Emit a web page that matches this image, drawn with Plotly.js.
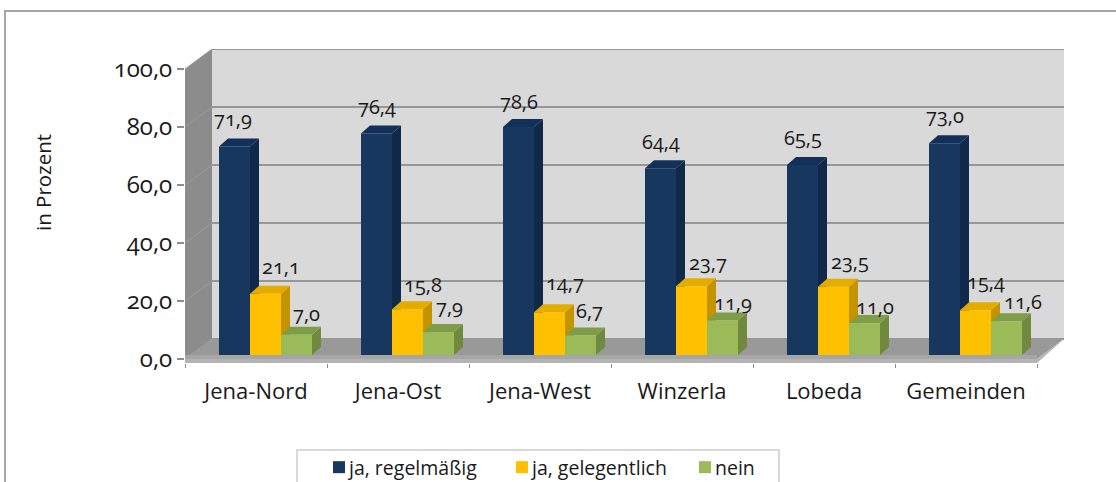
<!DOCTYPE html>
<html><head><meta charset="utf-8">
<script src="https://cdn.plot.ly/plotly-3.0.1.min.js"></script>
<style>
html,body{margin:0;padding:0;background:#fff;overflow:hidden}
#chart{width:1116px;height:482px}
svg text{font-feature-settings:"onum" 1;font-variant-numeric:oldstyle-nums}
.legend .legendsymbols{transform:translateX(10px)}
</style></head><body><div id="chart"></div>
<script>
const categories = ['Jena-Nord','Jena-Ost','Jena-West','Winzerla','Lobeda','Gemeinden'];
const seriesNames = ['ja, regelmäßig','ja, gelegentlich','nein'];
const regelmaessig = [71.9,76.4,78.6,64.4,65.5,73.0];
const gelegentlich = [21.1,15.8,14.7,23.7,23.5,15.4];
const nein = [7.0,7.9,6.7,11.9,11.0,11.6];
const yTicks = [0,20,40,60,80,100];

const labelNudgeX = [[-2,0,0,0,0,0],[15,15,15,16,16,10],[10,11,9,10,10,16]];
const labelNudgeY = [[28,27,26,27,28,28],[27,25,30,24,25,29],[21,26,25,18,17,20]];

const front = ['#17375E','#FFC000','#9BBB59'];
const side  = ['#10294A','#C49400','#71893F'];
const topC  = ['#13305A','#E5AC00','#7F9C48'];

const FF = 'Open Sans, Lato, sans-serif', TXT = '#1a1a1a';
const pxX = 142, pxY = 2.9;
const wallX = 27/pxX, wallY = 20/pxY;
const barW = 31/pxX, barStart = 34/pxX;
const barBase = 4/pxY;
const bdx = 9/pxX, bdy = 8/pxY;
const N = categories.length;
const all = [regelmaessig, gelegentlich, nein];
const poly = (pts, fill, extra) => Object.assign({type:'path', xref:'x', yref:'y', layer:'below',
  path:'M'+pts.map(p=>p[0]+','+p[1]).join('L')+'Z', fillcolor:fill, line:{width:0}}, extra||{});
const shapes = [];

shapes.push({type:'path',xref:'paper',yref:'paper',layer:'below',
  path:'M'+((5-185)/879)+',-0.4L'+((5-185)/879)+','+((363-11)/314)+'L'+((1116-185)/879)+','+((363-11)/314),
  line:{color:'#A6A6A6',width:2}});
shapes.push(poly([[wallX,wallY],[N+wallX,wallY],[N+wallX,100+wallY],[wallX,100+wallY]],'#D9D9D9'));
shapes.push(poly([[0,0],[wallX,wallY],[wallX,100+wallY],[0,100]],'#8C8C8C'));
yTicks.forEach(v=>{
  shapes.push({type:'line',xref:'x',yref:'y',layer:'below',x0:wallX,x1:N+wallX,y0:v+wallY,y1:v+wallY,line:{color:'#979797',width:2}});
  shapes.push({type:'line',xref:'x',yref:'y',layer:'below',x0:0,x1:wallX,y0:v,y1:v+wallY,line:{color:'#9A9A9A',width:1}});
});
shapes.push(poly([[0,0],[wallX,wallY],[N+wallX,wallY],[N,0]],'#999999'));
shapes.push(poly([[0,-1.38],[N,-1.38],[N+wallX,wallY],[N,0],[0,0]],'#B4B4B4'));
shapes.push(poly([[0,0],[N,0],[N,barBase],[0,barBase]],'#A6A6A6'));

all.forEach((vals,s)=>{
  vals.forEach((v,i)=>{
    const x0=i+barStart+s*barW, x1=x0+barW, t=v+barBase;
    shapes.push(poly([[x1,barBase],[x1+bdx,barBase+bdy],[x1+bdx,t+bdy],[x1,t]],side[s]));
    shapes.push(poly([[x0,t],[x0+bdx,t+bdy],[x1+bdx,t+bdy],[x1,t]],topC[s]));
  });
});

const traces = all.map((vals,s)=>({
  type:'bar', name:seriesNames[s],
  x:vals.map((_,i)=>i+barStart+(s+0.5)*barW), y:vals, base:barBase, width:barW,
  marker:{color:front[s],line:{width:0}},
  hoverinfo:'skip'
}));

const annotations = [];
all.forEach((vals,s)=>vals.forEach((v,i)=>annotations.push({
  xref:'x',yref:'y',x:i+barStart+(s+0.5)*barW,y:v+barBase,
  text:v.toFixed(1).replace('.',','),showarrow:false,xanchor:'center',yanchor:'middle',
  xshift:labelNudgeX[s][i],yshift:labelNudgeY[s][i],font:{family:FF,size:20,color:TXT}
})));
annotations.push({xref:'paper',yref:'paper',x:(43-185)/879,y:(363-183)/314,text:'in Prozent',
  textangle:-90,showarrow:false,xanchor:'center',yanchor:'middle',font:{family:FF,size:20.5,color:TXT}});

shapes.push({type:'path',xref:'paper',yref:'paper',layer:'below',
  path:'M'+((297-185)/879)+','+((363-490)/314)+'L'+((297-185)/879)+','+((363-450)/314)+'L'+((779-185)/879)+','+((363-450)/314)+'L'+((779-185)/879)+','+((363-490)/314),
  line:{color:'#D9D9D9',width:2}});

const layout = {
  width:1116,height:482,showlegend:true,barmode:'overlay',
  paper_bgcolor:'#fff',plot_bgcolor:'rgba(0,0,0,0)',
  margin:{l:185,r:52,t:49,b:119,autoexpand:false},
  font:{family:FF,size:20,color:TXT},separators:',.',
  xaxis:{range:[0,N+wallX],tickmode:'array',tickvals:categories.map((_,i)=>i+0.5),ticktext:categories,
    ticks:'',showgrid:false,zeroline:false,showline:false,ticklabelstandoff:13,tickfont:{family:FF,size:22,color:TXT},
    minor:{tickmode:'array',tickvals:Array.from({length:N+1},(_,i)=>i),ticks:'outside',ticklen:4,tickwidth:1,tickcolor:'#8C8C8C',showgrid:false}},
  yaxis:{range:[-1.38,100+wallY],tickmode:'array',tickvals:yTicks,tickformat:'.1f',ticks:'outside',ticklen:7,tickwidth:2,ticklabelstandoff:0,
    tickcolor:'#8C8C8C',showgrid:false,zeroline:false,showline:false,tickfont:{family:FF,size:24,color:TXT}},
  legend:{orientation:'h',x:(309-185)/879,xanchor:'left',y:(363-448)/314,yanchor:'top',entrywidth:138,entrywidthmode:'pixels',
    font:{family:FF,size:19.5,color:TXT},bgcolor:'rgba(0,0,0,0)',itemclick:false,itemdoubleclick:false,traceorder:'normal'},
  shapes,annotations
};
Plotly.newPlot('chart',traces,layout,{displayModeBar:false,staticPlot:true});
</script></body></html>
